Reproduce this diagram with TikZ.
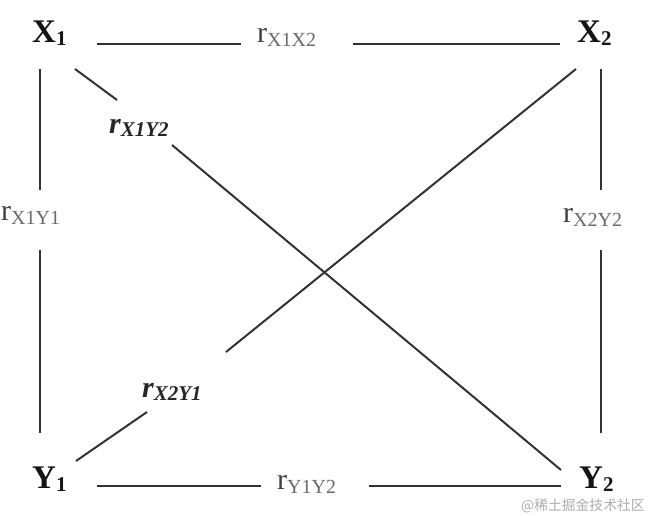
\documentclass[tikz,border=0pt]{standalone}
\usepackage{fontspec}
\setmainfont{Liberation Serif}
\newfontfamily\cjkfont{Noto Sans CJK SC}
\newcommand\varlab[2]{\fontsize{33}{33}\selectfont\bfseries #1\raisebox{-3pt}{\fontsize{21}{21}\selectfont #2}}
\newcommand\corrlab[1]{\fontsize{30}{30}\selectfont\textcolor{black!75}{r}\raisebox{-4pt}{\fontsize{20}{20}\selectfont\textcolor{black!58}{#1}}}
\newcommand\dcorrlab[1]{\fontsize{30}{30}\selectfont\bfseries\itshape r\raisebox{-3pt}{\fontsize{21}{21}\selectfont #1}}
\begin{document}
\begin{tikzpicture}[x=1pt,y=-1pt,
  conn/.style={draw=black!80, line width=2pt},
  var/.style={inner sep=0pt, anchor=base west, text=black!92},
  corr/.style={inner sep=0pt, anchor=base west},
  dcorr/.style={inner sep=0pt, anchor=base west, text=black!85},
  wmark/.style={inner sep=0pt, anchor=base west, text=black!32, font=\cjkfont\fontsize{13.8}{13.8}\selectfont}]
\useasboundingbox[fill=white] (0,0) rectangle (648,516);

% variables
\node[var] (X1) at (32,43) {\varlab{X}{1}};
\node[var] (X2) at (577,43) {\varlab{X}{2}};
\node[var] (Y1) at (32,488) {\varlab{Y}{1}};
\node[var] (Y2) at (579,488) {\varlab{Y}{2}};

% correlation labels
\node[corr] (rX1X2) at (257,43) {\corrlab{X1X2}};
\node[corr] (rX1Y1) at (1,220) {\corrlab{X1Y1}};
\node[corr] (rX2Y2) at (563,222) {\corrlab{X2Y2}};
\node[corr] (rY1Y2) at (277,489) {\corrlab{Y1Y2}};
\node[dcorr] (rX1Y2) at (109,134) {\dcorrlab{X1Y2}};
\node[dcorr] (rX2Y1) at (142,397) {\dcorrlab{X2Y1}};

% connector end points
\coordinate (t1) at (97,44);  \coordinate (t2) at (241,44);
\coordinate (t3) at (353,44); \coordinate (t4) at (560,44);
\coordinate (l1) at (40,69);  \coordinate (l2) at (40,190);
\coordinate (l3) at (40,250); \coordinate (l4) at (40,433);
\coordinate (q1) at (601,69); \coordinate (q2) at (601,190);
\coordinate (q3) at (601,250); \coordinate (q4) at (601,433);
\coordinate (b1) at (97,486); \coordinate (b2) at (261,486);
\coordinate (b3) at (369,486); \coordinate (b4) at (561,486);
\coordinate (d1) at (75,69);  \coordinate (d2) at (117,100);
\coordinate (d3) at (172,145); \coordinate (d4) at (561,470);
\coordinate (e1) at (576,69); \coordinate (e2) at (226,352);
\coordinate (e3) at (147,412); \coordinate (e4) at (76,461);

\draw[conn] (t1) -- (t2);  \draw[conn] (t3) -- (t4);
\draw[conn] (l1) -- (l2);  \draw[conn] (l3) -- (l4);
\draw[conn] (q1) -- (q2);  \draw[conn] (q3) -- (q4);
\draw[conn] (b1) -- (b2);  \draw[conn] (b3) -- (b4);
\draw[conn] (d1) -- (d2);  \draw[conn] (d3) -- (d4);
\draw[conn] (e1) -- (e2);  \draw[conn] (e3) -- (e4);

% watermark
\node[wmark] (wm) at (521,510) {@稀土掘金技术社区};
\end{tikzpicture}
\end{document}
